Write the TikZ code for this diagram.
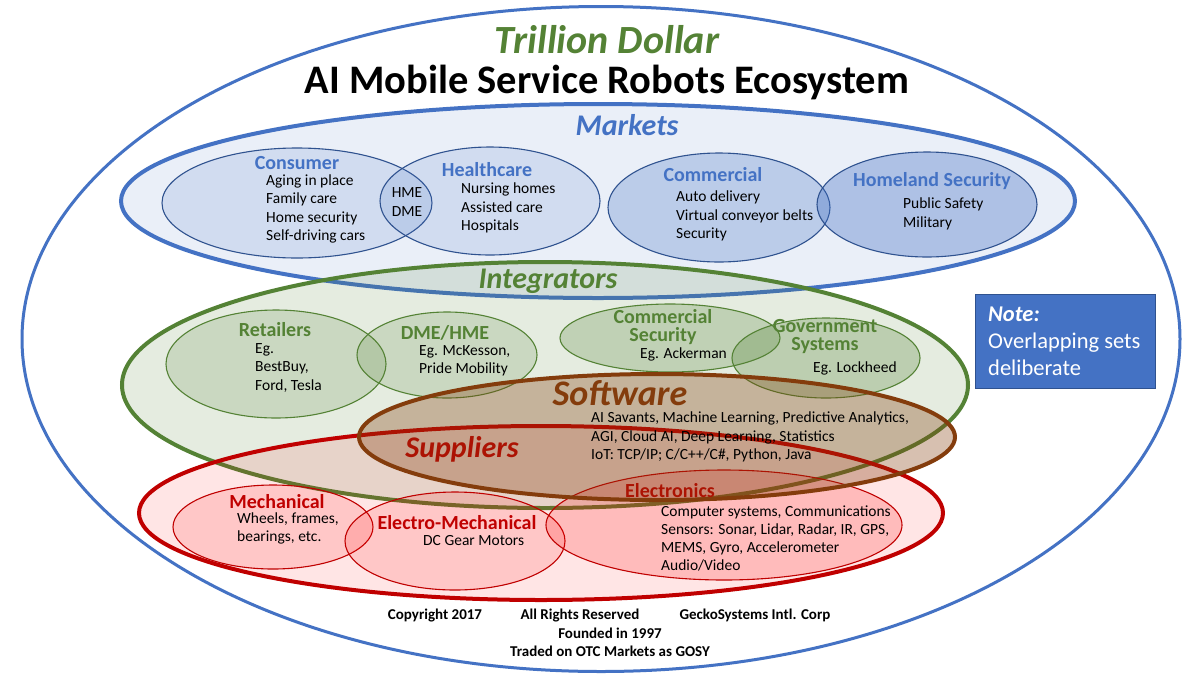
\documentclass[tikz,border=0pt]{standalone}
\usepackage{fontspec}
\setmainfont{Carlito}
\usetikzlibrary{shapes.geometric}
\usetikzlibrary{positioning}
\definecolor{mktblue}{HTML}{4472C4}
\definecolor{mktdark}{HTML}{2F528F}
\definecolor{intgreen}{HTML}{548235}
\definecolor{swbrown}{HTML}{843C0C}
\definecolor{supred}{HTML}{C00000}
\tikzset{
    x=1pt, y=-1pt,
    every node/.append style={inner sep=0pt},
    bigset/.style={
        ellipse,
        line width=4pt
    },
    smallset/.style={
        ellipse,
        line width=1.1pt
    },
    maintitle/.style={font=\fontsize{40.5}{44}\selectfont\bfseries},
    grouplabel/.style={font=\fontsize{30}{34}\selectfont\bfseries\itshape},
    setlabel/.style={font=\fontsize{20}{22}\selectfont\bfseries},
    items/.style={
        font=\fontsize{15.5}{18.3}\selectfont,
        align=left,
        anchor=west
    },
    footer/.style={font=\fontsize{15}{18}\selectfont\bfseries}
}

\begin{document}
\begin{tikzpicture}
    \fill[white] (0,0) rectangle (1200,681);
    \useasboundingbox (0,0) rectangle (1200,681);

    \node[ellipse, draw=mktblue, line width=3pt, minimum width=1158pt, minimum height=665pt] (outer) at (601,339) {};
    \node[maintitle, text=intgreen, font=\fontsize{40}{44}\selectfont\bfseries\itshape] (title1) at (607,40) {Trillion Dollar};
    \node[maintitle, below=10pt of title1] (title2) {AI Mobile Service Robots Ecosystem};

    \node[bigset, draw=mktblue, fill=mktblue, fill opacity=0.11, minimum width=954pt, minimum height=194pt] (markets) at (598,201) {};
    \node[smallset, draw=mktdark, fill=mktblue, fill opacity=0.15, minimum width=270pt, minimum height=110pt] (consumer) at (297,203) {};
    \node[smallset, draw=mktdark, fill=mktblue, fill opacity=0.15, minimum width=220pt, minimum height=108pt] (healthcare) at (490,201) {};
    \node[smallset, draw=mktdark, fill=mktblue, fill opacity=0.28, minimum width=222pt, minimum height=109pt] (commercial) at (719,207.5) {};
    \node[smallset, draw=mktdark, fill=mktblue, fill opacity=0.36, minimum width=220pt, minimum height=105pt] (homeland) at (927,204.5) {};
    \node[grouplabel, text=mktblue] (mkt-label) at (627,125) {Markets};
    \node[setlabel, text=mktblue] (con-label) at (297,163) {Consumer};
    \node[items] (con-items) at (266,209) {Aging in place\\Family care\\Home security\\Self-driving cars};
    \node[items, align=center, anchor=center] (hme) at (407,202) {HME\\DME};
    \node[setlabel, text=mktblue] (hc-label) at (487,170) {Healthcare};
    \node[items] (hc-items) at (461,208) {Nursing homes\\Assisted care\\Hospitals};
    \node[setlabel, text=mktblue] (com-label) at (713,175) {Commercial};
    \node[items] (com-items) at (676,216) {Auto delivery\\Virtual conveyor belts\\Security};
    \node[setlabel, text=mktblue] (hs-label) at (932,181) {Homeland Security};
    \node[items] (hs-items) at (903,214) {Public Safety\\Military};

    \node[bigset, draw=intgreen, fill=intgreen, fill opacity=0.15, minimum width=846pt, minimum height=246pt] (integrators) at (545,385) {};
    \node[smallset, draw=intgreen, fill=intgreen, fill opacity=0.18, minimum width=220pt, minimum height=108pt] (retailers) at (276,364) {};
    \node[smallset, draw=intgreen, fill=intgreen, fill opacity=0.18, minimum width=180pt, minimum height=86pt] (dmehme) at (447,355) {};
    \node[smallset, draw=intgreen, fill=intgreen, fill opacity=0.25, minimum width=220pt, minimum height=68pt] (comsec) at (670,338) {};
    \node[smallset, draw=intgreen, fill=intgreen, fill opacity=0.28, minimum width=188pt, minimum height=80pt] (govsys) at (826,358) {};
    \node[grouplabel, text=intgreen] (int-label) at (548,281) {Integrators};
    \node[setlabel, text=intgreen] (ret-label) at (275,330) {Retailers};
    \node[items] (ret-items) at (255,368) {Eg.\\BestBuy,\\Ford, Tesla};
    \node[setlabel, text=intgreen] (dme-label) at (445,333) {DME/HME};
    \node[items] (dme-items) at (419,361) {Eg. McKesson,\\Pride Mobility};
    \node[setlabel, text=intgreen, align=center, font=\fontsize{20}{18}\selectfont\bfseries] (cs-label) at (663,327) {Commercial\\Security};
    \node[items] (cs-items) at (640,354) {Eg. Ackerman};
    \node[setlabel, text=intgreen, align=center, font=\fontsize{20}{18}\selectfont\bfseries] (gov-label) at (825,337) {Government\\Systems};
    \node[items] (gov-items) at (813,368) {Eg. Lockheed};

    \node[bigset, draw=supred, fill=red, fill opacity=0.1, minimum width=804pt, minimum height=174pt] (suppliers) at (541,513) {};
    \node[smallset, draw=supred, fill=red, fill opacity=0.13, minimum width=200pt, minimum height=84pt] (mechanical) at (273,527) {};
    \node[smallset, draw=supred, fill=red, fill opacity=0.13, minimum width=220pt, minimum height=98pt] (electromech) at (455,541) {};
    \node[smallset, draw=supred, fill=red, fill opacity=0.18, minimum width=356pt, minimum height=110pt] (electronics) at (724,525) {};
    \node[grouplabel, text=supred] (sup-label) at (462,449) {Suppliers};
    \node[setlabel, text=supred] (mech-label) at (277,502) {Mechanical};
    \node[items] (mech-items) at (237,528.5) {Wheels, frames,\\bearings, etc.};
    \node[setlabel, text=supred] (em-label) at (457,523) {Electro-Mechanical};
    \node[items] (em-items) at (423,541) {DC Gear Motors};
    \node[setlabel, text=supred] (el-label) at (670,491) {Electronics};
    \node[items] (el-items) at (661,538.5) {Computer systems, Communications\\Sensors: Sonar, Lidar, Radar, IR, GPS,\\MEMS, Gyro, Accelerometer\\Audio/Video};

    \node[bigset, draw=swbrown, fill=swbrown, fill opacity=0.32, minimum width=596pt, minimum height=126pt] (software) at (657,437) {};
    \node[grouplabel, text=swbrown, font=\fontsize{36}{40}\selectfont\bfseries\itshape] (sw-label) at (620,393) {Software};
    \node[items] (sw-items) at (591,437) {AI Savants, Machine Learning, Predictive Analytics,\\AGI, Cloud AI, Deep Learning, Statistics\\IoT: TCP/IP; C/C++/C\#, Python, Java};

    \node[draw=mktdark, fill=mktblue, line width=1pt, minimum width=180pt, minimum height=94pt, anchor=north west] (note) at (975,294) {};
    \node[text=white, font=\fontsize{22.5}{27}\selectfont, align=left, anchor=west] (note-text) at (988,341) {\textbf{\textit{Note:}}\\Overlapping sets\\deliberate};

    \node[footer] (copy) at (435,615) {Copyright 2017};
    \node[footer] (rights) at (580,615) {All Rights Reserved};
    \node[footer] (gecko) at (755,615) {GeckoSystems Intl. Corp};
    \node[footer] (founded) at (610,633) {Founded in 1997};
    \node[footer, below=7pt of founded] (otc) {Traded on OTC Markets as GOSY};
\end{tikzpicture}
\end{document}
